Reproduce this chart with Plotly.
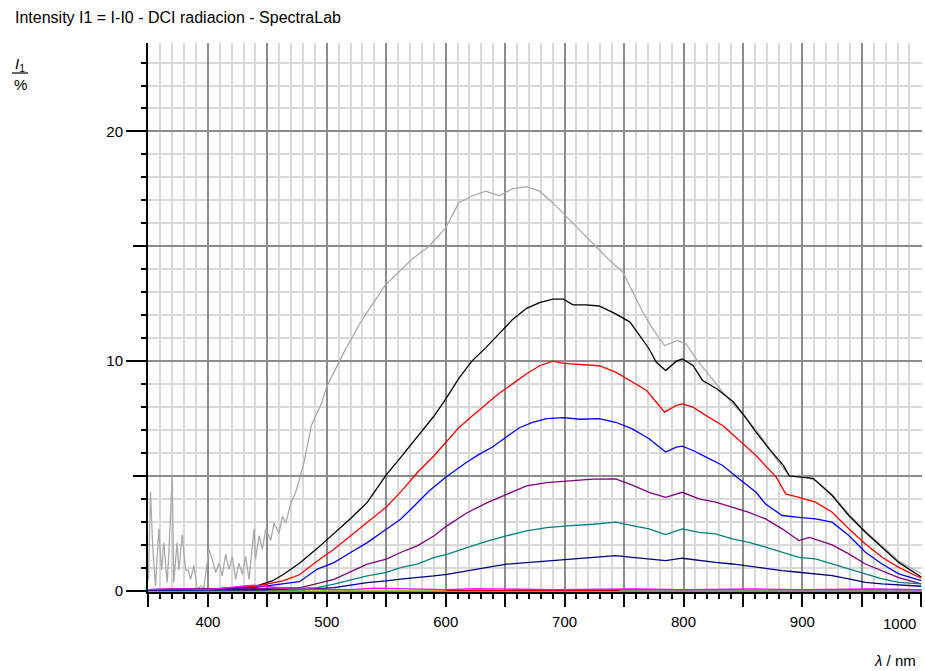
import plotly.graph_objects as go

# ---------------- data ----------------
gray_wl = [350, 351.7, 353.6, 355.9, 358.7, 361, 362.9, 365.7, 367, 370, 371.3, 374, 375.6, 378.4,
           381.2, 383.4, 385.4, 388.2, 391, 393.8, 396.6, 400.8, 403.7, 406.5, 409.3, 412, 414.9,
           417.7, 420.5, 423.3, 426, 429, 431.7, 434.6, 438.8, 440, 443, 445.8, 448.6, 452.8, 455.6,
           459.8, 462.6, 465.4, 469.7, 473.9, 476.7, 480.9, 487, 495.8, 500, 515.5, 529.6, 549, 571.8,
           586, 600, 611, 622.5, 633.8, 645, 656, 667.6, 678.9, 690, 701.4, 712.7, 726.8, 736.4, 749,
           757.4, 765.8, 774.2, 784, 795.2, 802.2, 810.6, 821.9, 833.1, 844.3, 855.5, 866.7, 877.9,
           889.1, 900, 911, 925, 939, 953, 967, 981, 1000]
gray_val = [0.5, 4.3, 1.9, 0.2, 2.7, 0.9, 2.1, 0.36, 1.5, 5.0, 0.36, 2.1, 0.9, 2.45,
            0.9, 0.9, 0.5, 1.1, 0.07, 0.2, 0.14, 1.8, 1.37, 0.8, 1.2, 0.65, 1.6,
            0.94, 1.5, 0.5, 1.2, 0.72, 1.5, 0.5, 2.7, 1.37, 2.4, 1.8, 2.7, 2.2, 2.95,
            2.5, 3.25, 2.95, 3.8, 4.3, 4.8, 5.6, 7.2, 8.2, 8.9, 10.5, 11.8, 13.3, 14.45,
            15.0, 15.8, 16.9, 17.2, 17.4, 17.2, 17.5, 17.6, 17.4, 16.9, 16.3, 15.7, 15.0, 14.46, 13.87,
            13.0, 12.13, 11.4, 10.68, 10.9, 10.75, 10.1, 9.37, 8.65, 7.99, 7.34, 6.62, 5.75,
            5.02, 5.0, 4.8, 4.2, 3.35, 2.6, 1.95, 1.3, 0.75]

black_wl = [350, 380, 410, 440, 454, 463, 477, 492, 506, 520, 534, 550, 562, 576, 590, 600, 611, 622,
            634, 645, 656, 668, 679, 690, 699, 707, 718, 729, 743, 755, 763, 771, 777, 785, 794, 799,
            808, 816, 828, 842, 850, 861, 872, 884, 889, 900, 909, 925, 939, 953, 967, 981, 1000]
black_val = [0.05, 0.08, 0.1, 0.2, 0.43, 0.7, 1.2, 1.85, 2.5, 3.15, 3.85, 5.05, 5.8, 6.7, 7.6, 8.35, 9.25, 10.0,
             10.6, 11.2, 11.8, 12.3, 12.55, 12.7, 12.7, 12.45, 12.45, 12.4, 12.06, 11.7, 11.12, 10.54, 9.96, 9.59, 10.0, 10.1,
             9.81, 9.16, 8.8, 8.22, 7.7, 6.91, 6.18, 5.46, 5.0, 4.95, 4.9, 4.15, 3.28, 2.55, 1.9, 1.24, 0.6]

red_wl = [350, 380, 410, 440, 463, 477, 492, 506, 520, 534, 550, 562, 576, 590, 600, 611, 622, 634, 645,
          656, 668, 679, 690, 699, 710, 718, 729, 743, 757, 769, 777, 784, 794, 799, 808, 819, 833, 847,
          861, 878, 886, 897, 911, 925, 939, 953, 967, 981, 1000]
red_val = [0.05, 0.08, 0.1, 0.2, 0.43, 0.7, 1.3, 1.81, 2.39, 2.97, 3.65, 4.3, 5.14, 5.87, 6.45, 7.1, 7.6, 8.1, 8.6,
           9.0, 9.45, 9.8, 10.0, 9.9, 9.87, 9.85, 9.8, 9.52, 9.08, 8.72, 8.22, 7.78, 8.07, 8.14, 8.0, 7.63, 7.2, 6.55,
           5.89, 4.95, 4.22, 4.07, 3.86, 3.42, 2.7, 2.04, 1.46, 1.02, 0.55]

blue_wl = [350, 380, 410, 440, 463, 477, 492, 506, 520, 534, 550, 562, 572, 586, 600, 617, 628, 639, 651,
           662, 673, 685, 699, 713, 729, 743, 757, 771, 785, 794, 799, 808, 819, 833, 845, 861, 869, 883,
           897, 911, 925, 939, 953, 967, 981, 1000]
blue_val = [0.05, 0.05, 0.08, 0.15, 0.29, 0.4, 0.95, 1.23, 1.67, 2.1, 2.68, 3.12, 3.62, 4.35, 4.95, 5.58, 5.94, 6.25, 6.7,
            7.1, 7.33, 7.5, 7.54, 7.47, 7.5, 7.34, 7.05, 6.62, 6.04, 6.26, 6.3, 6.11, 5.82, 5.46, 4.95, 4.29, 3.78, 3.28,
            3.2, 3.13, 2.99, 2.41, 1.68, 1.17, 0.74, 0.45]

purple_wl = [350, 400, 440, 478, 506, 534, 550, 562, 576, 590, 601, 618, 635, 651, 668, 685, 702, 724, 743,
             757, 771, 785, 799, 813, 827, 841, 855, 869, 883, 897, 906, 925, 939, 953, 967, 981, 1000]
purple_val = [0.05, 0.05, 0.1, 0.14, 0.5, 1.16, 1.38, 1.67, 1.96, 2.39, 2.83, 3.4, 3.84, 4.2, 4.57, 4.71, 4.78, 4.86, 4.87,
              4.6, 4.29, 4.07, 4.29, 4.0, 3.86, 3.64, 3.42, 3.13, 2.7, 2.19, 2.33, 2.0, 1.61, 1.17, 0.87, 0.58, 0.3]

teal_wl = [350, 450, 492, 506, 534, 550, 562, 576, 590, 601, 618, 635, 651, 668, 685, 702, 724, 743, 757,
           771, 785, 799, 813, 827, 841, 855, 869, 883, 897, 911, 925, 939, 953, 967, 981, 1000]
teal_val = [0.03, 0.05, 0.14, 0.29, 0.65, 0.8, 1.01, 1.16, 1.45, 1.59, 1.88, 2.17, 2.39, 2.61, 2.75, 2.83, 2.9, 2.99, 2.84,
            2.7, 2.45, 2.7, 2.55, 2.48, 2.26, 2.11, 1.9, 1.68, 1.46, 1.39, 1.17, 0.95, 0.74, 0.52, 0.37, 0.3]

navy_wl = [350, 480, 506, 534, 550, 562, 590, 601, 618, 635, 651, 668, 685, 702, 724, 743, 757, 771, 785,
           799, 813, 827, 841, 855, 869, 883, 897, 911, 925, 939, 953, 967, 981, 1000]
navy_val = [0.03, 0.05, 0.14, 0.36, 0.43, 0.51, 0.65, 0.72, 0.87, 1.01, 1.16, 1.23, 1.3, 1.38, 1.45, 1.53, 1.46, 1.39, 1.32,
            1.42, 1.32, 1.24, 1.17, 1.07, 0.98, 0.88, 0.81, 0.74, 0.66, 0.52, 0.37, 0.3, 0.26, 0.2]

# near-zero series lying on the baseline
yellowgreen_wl = [350, 450, 505, 550, 600]
yellowgreen_val = [0.02, 0.02, 0.02, 0.02, 0.02]
orange_wl = [590, 596, 602]
orange_val = [0.02, 0.03, 0.02]
darkred_wl = [600, 650, 700, 746]
darkred_val = [0.02, 0.02, 0.02, 0.02]
magenta_wl = [350, 372, 400, 438, 470, 520, 540, 600, 626, 690, 760, 800, 860, 900, 960, 1000]
magenta_val = [0.05, 0.1, 0.05, 0.25, 0.08, 0.05, 0.12, 0.05, 0.1, 0.05, 0.08, 0.05, 0.08, 0.05, 0.08, 0.05]

x_tickvals = [350, 400, 450, 500, 550, 600, 650, 700, 750, 800, 850, 900, 950, 1000]
x_ticktext = ["", "400", "", "500", "", "600", "", "700", "", "800", "", "900", "", ""]
y_major = [0, 5, 10, 15, 20]
y_labelled = [0, 10, 20]
y_labels = ["0", "10", "20"]

FONT = "Liberation Sans, Arial, sans-serif"
X_RANGE = [349.6, 1000.6]
Y_RANGE = [-0.05, 23.85]

fig = go.Figure()

series = [
    (yellowgreen_wl, yellowgreen_val, "#9acd32"),
    (orange_wl, orange_val, "#ff9900"),
    (darkred_wl, darkred_val, "#cc0000"),
    (gray_wl, gray_val, "#aaaaaa"),
    (black_wl, black_val, "#000000"),
    (red_wl, red_val, "#ff0000"),
    (blue_wl, blue_val, "#0000ff"),
    (purple_wl, purple_val, "#800080"),
    (teal_wl, teal_val, "#008080"),
    (navy_wl, navy_val, "#000080"),
    (magenta_wl, magenta_val, "#ff00ff"),
]
for wl, val, col in series:
    fig.add_trace(go.Scatter(x=wl, y=val, mode="lines",
                             line=dict(color=col, width=1.3),
                             showlegend=False, hoverinfo="x+y"))

# invisible trace to activate the second (label) y axis
fig.add_trace(go.Scatter(x=[X_RANGE[0]], y=[0], yaxis="y2", mode="markers",
                         marker=dict(opacity=0), showlegend=False, hoverinfo="skip"))

fig.update_layout(
    width=925, height=671,
    margin=dict(l=148, r=3, t=43, b=79),
    paper_bgcolor="white", plot_bgcolor="white",
    font=dict(family=FONT, size=15, color="black"),
    title=dict(text="Intensity I1 = I-I0 - DCI radiacion - SpectraLab",
               x=15 / 925, xref="container", xanchor="left",
               y=1 - 17 / 671, yref="container", yanchor="middle",
               font=dict(family=FONT, size=16, color="black")),
    xaxis=dict(range=X_RANGE, tickmode="array", tickvals=x_tickvals, ticktext=x_ticktext,
               ticks="outside", ticklen=13, tickwidth=1.5, tickcolor="black",
               showline=True, linecolor="black", linewidth=1.5,
               showgrid=True, gridcolor="#8c8c8c", gridwidth=1.5, zeroline=False,
               ticklabelstandoff=2,
               minor=dict(dtick=10, tick0=350, ticks="outside", ticklen=5, tickwidth=1.5,
                          tickcolor="black", showgrid=True, gridcolor="#d9d9d9", gridwidth=1.5),
               tickfont=dict(family=FONT, size=15), automargin=False),
    yaxis=dict(range=Y_RANGE, tickmode="array", tickvals=y_major, ticktext=[""] * len(y_major),
               ticks="outside", ticklen=13, tickwidth=1.5, tickcolor="black",
               showline=True, linecolor="black", linewidth=1.5,
               showgrid=True, gridcolor="#8c8c8c", gridwidth=1.5, zeroline=False,
               minor=dict(dtick=1, tick0=0, ticks="outside", ticklen=5, tickwidth=1.5,
                          tickcolor="black", showgrid=True, gridcolor="#d9d9d9", gridwidth=1.5),
               automargin=False),
    yaxis2=dict(range=Y_RANGE, overlaying="y", side="left", tickmode="array",
                tickvals=y_labelled, ticktext=y_labels, ticks="outside", ticklen=21,
                tickwidth=1.5, tickcolor="black", showgrid=False, zeroline=False,
                showline=False, tickfont=dict(family=FONT, size=15), automargin=False),
)

# "1000" label kept inside the plot width, as in the reference
fig.add_annotation(x=1000, y=0, xref="x", yref="paper", text="1000", showarrow=False,
                   xanchor="right", yanchor="top", xshift=-3, yshift=-21,
                   font=dict(family=FONT, size=15))
# axis titles
fig.add_annotation(x=(918 - 148) / 774, y=(592 - 660) / 549, xref="paper", yref="paper",
                   text="<i>λ</i> / nm", showarrow=False, xanchor="right", yanchor="middle",
                   font=dict(family=FONT, size=15))
fig.add_annotation(x=(20 - 148) / 774, y=(592 - 64) / 549, xref="paper", yref="paper",
                   text="<i>I</i><sub>1</sub>", showarrow=False, xanchor="center", yanchor="middle",
                   font=dict(family=FONT, size=15))
fig.add_annotation(x=(20 - 148) / 774, y=(592 - 85) / 549, xref="paper", yref="paper",
                   text="%", showarrow=False, xanchor="center", yanchor="middle",
                   font=dict(family=FONT, size=15))
fig.add_shape(type="line", xref="paper", yref="paper",
              x0=(12 - 148) / 774, x1=(28 - 148) / 774,
              y0=(592 - 73) / 549, y1=(592 - 73) / 549,
              line=dict(color="black", width=1.2))

fig.write_html("out.html", config={"displayModeBar": False},
               post_script="document.body.style.margin='0px';")
